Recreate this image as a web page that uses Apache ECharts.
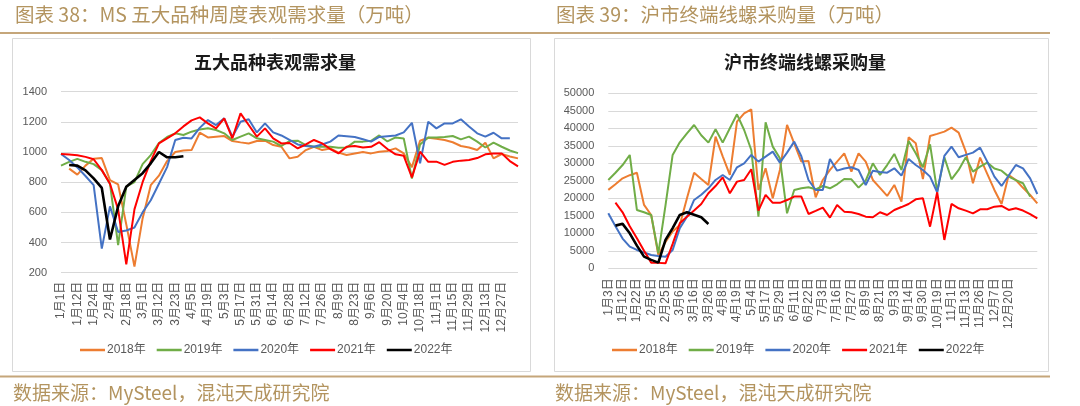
<!DOCTYPE html>
<html><head><meta charset="utf-8">
<script src="https://cdn.jsdelivr.net/npm/echarts@6/dist/echarts.min.js"></script>
<style>html,body{margin:0;padding:0;background:#fff}#c{width:1080px;height:406px}</style>
</head><body><div id="c"></div>
<script>
// ---------- Left chart: MS five major products weekly apparent demand (10k t) ----------
const catsL = ['1月1日','1月6日','1月12日','1月18日','1月24日','1月29日','2月4日','2月11日','2月18日','2月24日','3月1日','3月6日','3月12日','3月17日','3月23日','3月29日','4月5日','4月12日','4月19日','4月26日','5月3日','5月10日','5月17日','5月24日','5月31日','6月7日','6月14日','6月21日','6月28日','7月5日','7月12日','7月19日','7月26日','8月2日','8月9日','8月16日','8月23日','8月30日','9月6日','9月13日','9月20日','9月27日','10月4日','10月11日','10月18日','10月25日','11月1日','11月8日','11月15日','11月22日','11月29日','12月6日','12月13日','12月20日','12月27日','12月30日','12月31日'];
const L2018 = [null,890,850,910,955,960,814,785,520,240,560,780,843,940,1000,1010,1013,1128,1097,1102,1106,1073,1064,1057,1073,1075,1046,1035,958,969,1013,1035,1013,1024,996,980,990,1000,991,1002,1007,1024,991,900,1075,1095,1088,1080,1065,1040,1030,1013,1062,958,987,970,958];
const L2019 = [910,935,955,935,920,880,790,383,770,800,920,980,1060,1100,1124,1113,1135,1150,1157,1146,1124,1080,1102,1124,1091,1080,1069,1040,1073,1075,1046,1035,1035,1035,1029,1030,1069,1069,1075,1110,1070,1097,1090,825,1050,1097,1097,1100,1106,1084,1102,1069,1030,1062,1035,1010,993];
const L2020 = [987,947,898,841,781,360,640,470,480,500,600,680,790,900,1080,1095,1090,1160,1212,1179,1223,1102,1201,1217,1130,1190,1130,1110,1080,1050,1040,1035,1050,1069,1110,1105,1100,1085,1069,1100,1105,1110,1130,1194,925,1201,1157,1190,1190,1217,1170,1124,1102,1128,1091,1091,null];
const L2021 = [987,983,978,968,952,880,790,620,255,620,800,940,1057,1091,1124,1170,1210,1230,1190,1157,1223,1091,1256,1179,1102,1157,1091,1057,1060,1024,1050,1080,1057,1020,991,1035,1040,1030,1035,1065,1020,985,975,832,1002,935,936,915,935,943,947,960,985,990,991,940,905];
const L2022 = [null,914,910,878,825,762,420,640,770,815,860,925,1000,965,965,972];
const yMinL = 200, yMaxL = 1400, yStepL = 200;

// ---------- Right chart: Shanghai terminal wire & rebar purchases (t) ----------
const catsR = ['1月3日','1月8日','1月12日','1月17日','1月22日','1月28日','2月5日','2月15日','2月25日','3月1日','3月6日','3月11日','3月16日','3月21日','3月26日','4月2日','4月8日','4月14日','4月19日','4月26日','5月4日','5月11日','5月17日','5月23日','5月29日','6月4日','6月11日','6月17日','6月22日','6月28日','7月3日','7月10日','7月16日','7月21日','7月27日','8月3日','8月9日','8月15日','8月21日','8月27日','9月3日','9月8日','9月14日','9月22日','9月30日','10月10日','10月19日','10月25日','11月1日','11月7日','11月13日','11月19日','11月26日','12月1日','12月7日','12月14日','12月20日','12月23日','12月26日','12月28日','12月31日'];
const R2018 = [22400,24000,25700,26600,27300,18100,15240,3800,7500,10500,12400,20000,27300,25500,23800,37600,32000,26670,41900,44290,45430,22380,28570,20000,28100,40950,35700,30480,30670,20290,25240,28100,30500,32860,27620,32860,30480,25240,23000,20670,23810,19050,37430,35710,25520,37810,38400,39050,40190,38760,33330,24290,31620,27000,22380,18380,26670,25240,23000,20950,18570];
const R2019 = [25240,27300,29500,32380,16670,16000,15240,4290,18000,32380,36000,38570,40950,38000,35900,39710,35900,40000,44000,39520,33810,14760,41710,34760,31430,15710,22380,22860,23140,22570,23520,22860,24000,25520,25430,23050,25050,30000,26670,29500,32670,28100,36380,32860,28860,35430,21900,31710,25430,28100,31710,27620,29050,30190,28500,27900,26190,25200,24290,20480,null];
const R2020 = [15710,12000,8500,6190,5240,4500,3810,3500,3330,5240,11430,14760,19520,21000,22860,25240,26670,25240,28860,30000,32380,30480,31900,33330,30190,33050,36190,32000,25240,22380,22380,31240,27900,28500,28860,28100,23810,27900,27500,27330,28570,26480,31240,29520,28100,26190,21710,32100,34760,31710,32400,33050,34480,30480,26190,23520,26500,29520,28570,25710,21240];
const R2021 = [null,18760,16000,12000,8570,5000,1620,1550,1430,7000,12860,14760,16500,18380,21430,23500,26000,21430,24760,25240,28290,16500,21000,18700,18700,19500,20500,20500,15520,16400,17330,14480,18100,16190,16000,15520,14760,14570,16000,15240,16670,17500,18380,19710,20000,11900,21710,8100,18380,17140,16480,15710,16860,16860,17620,17810,16670,17140,16500,15500,14290];
const R2022 = [null,12190,12700,10000,6480,3330,2400,1620,8100,11500,15240,16000,15300,14570,12670];
const yMinR = 0, yMaxR = 50000, yStepR = 5000;

const seriesNames = ['2018年','2019年','2020年','2021年','2022年'];
const colors = ['#ED7D31','#70AD47','#4472C4','#FF0000','#000000'];
const leftData = [L2018, L2019, L2020, L2021, L2022];
const rightData = [R2018, R2019, R2020, R2021, R2022];

const FONT = "'Liberation Sans','Noto Sans CJK SC',sans-serif";
const CJK = "'Noto Sans CJK SC',sans-serif";
const GOLD = '#B3945F';
const GOLDLINE = '#C5A67A';

function mkSeries(data, gi) {
  return data.map((d, k) => ({
    name: seriesNames[k], type: 'line', xAxisIndex: gi, yAxisIndex: gi,
    data: d, symbol: 'none', showSymbol: false,
    lineStyle: {color: colors[k], width: k === 4 ? 2.6 : 2},
    itemStyle: {color: colors[k]}, connectNulls: false
  }));
}
function xAx(gi, cats, last, margin) {
  return {gridIndex: gi, type: 'category', data: cats, boundaryGap: false,
    axisLine: {show: false}, axisTick: {show: false}, splitLine: {show: false},
    axisLabel: {rotate: 90, interval: (i) => i % 2 === 0 && i <= last, fontSize: 12,
      color: '#595959', margin: margin, fontFamily: FONT}};
}
function yAx(gi, mn, mx, st) {
  return {gridIndex: gi, type: 'value', min: mn, max: mx, interval: st,
    axisLine: {show: false}, axisTick: {show: false},
    axisLabel: {fontSize: 11, color: '#595959', margin: 14, fontFamily: FONT,
      formatter: (v) => String(v)},
    splitLine: {lineStyle: {color: '#D9D9D9', width: 1}}};
}
function legend(left) {
  return {data: seriesNames, left: left, top: 344, padding: 0, itemGap: 11,
    itemWidth: 25, itemHeight: 2.5, icon: 'rect',
    textStyle: {fontSize: 12, color: '#595959', fontFamily: FONT, padding: [0, 0, 0, -3]}};
}
function txt(text, x, y, size, color, weight, align) {
  return {type: 'text', silent: true, style: {text: text, x: x, y: y, fill: color,
    fontSize: size, fontWeight: weight || 'normal', fontFamily: CJK,
    textAlign: align || 'left', textVerticalAlign: 'middle'}};
}

const chart = echarts.init(document.getElementById('c'), null, {renderer: 'canvas'});
chart.setOption({
  animation: false,
  backgroundColor: '#ffffff',
  grid: [
    {left: 61, top: 91.7, width: 457, height: 181},
    {left: 608.3, top: 93.3, width: 429, height: 175}
  ],
  xAxis: [xAx(0, catsL, 54, 9), xAx(1, catsR, 56, 10)],
  yAxis: [yAx(0, yMinL, yMaxL, yStepL), yAx(1, yMinR, yMaxR, yStepR)],
  legend: [legend(80), legend(612)],
  series: mkSeries(leftData, 0).concat(mkSeries(rightData, 1)),
  graphic: [
    {type: 'rect', silent: true, z: -1, shape: {x: 12.5, y: 38.5, width: 518, height: 333}, style: {fill: 'none', stroke: '#D9D9D9', lineWidth: 1}},
    {type: 'rect', silent: true, z: -1, shape: {x: 554.5, y: 38.5, width: 494, height: 333}, style: {fill: 'none', stroke: '#D9D9D9', lineWidth: 1}},
    {type: 'line', silent: true, shape: {x1: 0, y1: 33, x2: 1050, y2: 33}, style: {stroke: GOLDLINE, lineWidth: 2}},
    {type: 'line', silent: true, shape: {x1: 0, y1: 376.5, x2: 1050, y2: 376.5}, style: {stroke: GOLDLINE, lineWidth: 2}},
    txt('图表 38：MS 五大品种周度表观需求量（万吨）', 15, 15, 19.5, GOLD),
    txt('图表 39：沪市终端线螺采购量（万吨）', 556, 15, 19.5, GOLD),
    txt('数据来源：MySteel，混沌天成研究院', 13, 393, 19, GOLD),
    txt('数据来源：MySteel，混沌天成研究院', 555, 393, 19, GOLD),
    txt('五大品种表观需求量', 275, 62, 18, '#1a1a1a', 'bold', 'center'),
    txt('沪市终端线螺采购量', 805, 62, 18, '#1a1a1a', 'bold', 'center')
  ]
});
</script>
</body></html>
